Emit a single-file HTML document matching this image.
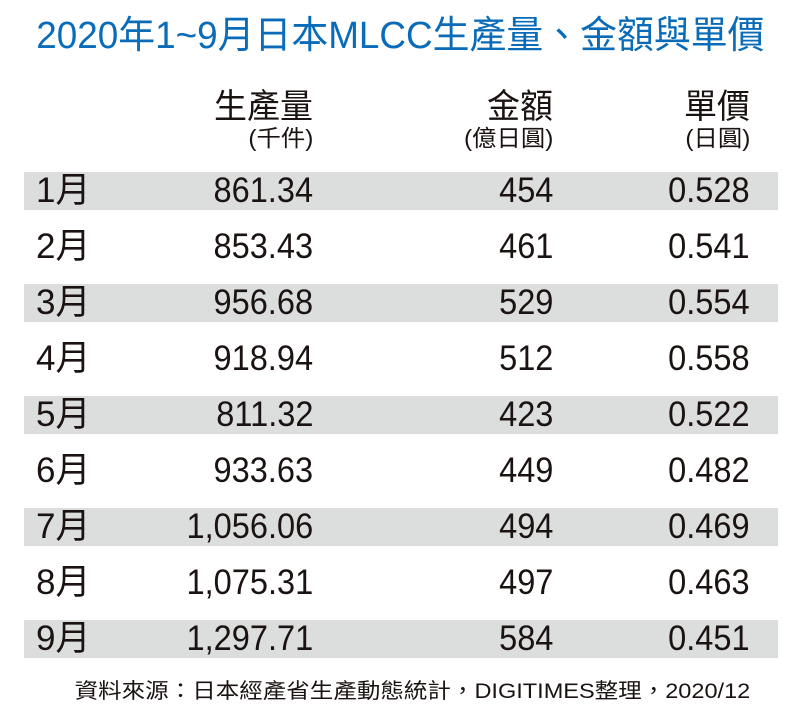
<!DOCTYPE html>
<html><head><meta charset="utf-8"><style>
body{margin:0;width:800px;height:728px;background:#fff;position:relative;overflow:hidden;font-family:"Liberation Sans","Noto Sans CJK TC",sans-serif;color:#1a1311}
.a{position:absolute;white-space:nowrap}
.r{transform-origin:right center}
.l{transform-origin:left center}
.band{position:absolute;left:24px;width:754px;height:38px;background:#dcdddd}
.n{font-size:35px;line-height:38px;transform:scaleX(.93)}
</style></head><body>
<div class="a" style="left:0;width:800px;text-align:center;top:12px;font-size:38px;line-height:48px;color:#0a6cb9;"><span style="display:inline-block;transform:scaleX(.97)">2020年1~9月日本MLCC生產量、金額與單價</span></div>
<div class="a r" style="right:487px;top:87px;font-size:34px;line-height:40px;transform:scaleX(.97)">生產量</div>
<div class="a r" style="right:247px;top:87px;font-size:34px;line-height:40px;transform:scaleX(.97)">金額</div>
<div class="a r" style="right:50px;top:87px;font-size:34px;line-height:40px;transform:scaleX(.97)">單價</div>
<div class="a r" style="right:487px;top:124px;font-size:23px;line-height:28px;transform:scaleX(1.06)">(千件)</div>
<div class="a r" style="right:247px;top:124px;font-size:23px;line-height:28px;transform:scaleX(1.06)">(億日圓)</div>
<div class="a r" style="right:50px;top:124px;font-size:23px;line-height:28px;transform:scaleX(1.06)">(日圓)</div>
<div class="band" style="top:172px"></div>
<div class="band" style="top:284px"></div>
<div class="band" style="top:396px"></div>
<div class="band" style="top:508px"></div>
<div class="band" style="top:620px"></div>
<div id="rows"></div>
<script>
var d=[["1月","861.34","454","0.528"],["2月","853.43","461","0.541"],["3月","956.68","529","0.554"],["4月","918.94","512","0.558"],["5月","811.32","423","0.522"],["6月","933.63","449","0.482"],["7月","1,056.06","494","0.469"],["8月","1,075.31","497","0.463"],["9月","1,297.71","584","0.451"]];
var h="";
d.forEach(function(r,i){var t=172+i*56;
h+='<div class="a n l" style="left:36px;top:'+t+'px;transform:scaleX(1.0)">'+r[0]+'</div>';
h+='<div class="a n r" style="right:487px;top:'+t+'px">'+r[1]+'</div>';
h+='<div class="a n r" style="right:247px;top:'+t+'px">'+r[2]+'</div>';
h+='<div class="a n r" style="right:50px;top:'+t+'px">'+r[3]+'</div>';});
document.getElementById("rows").innerHTML=h;
</script>
<div class="a r" style="right:50px;top:678px;font-size:21px;line-height:28px;transform:scaleX(1.12)">資料來源：日本經產省生產動態統計，DIGITIMES整理，2020/12</div>
</body></html>
